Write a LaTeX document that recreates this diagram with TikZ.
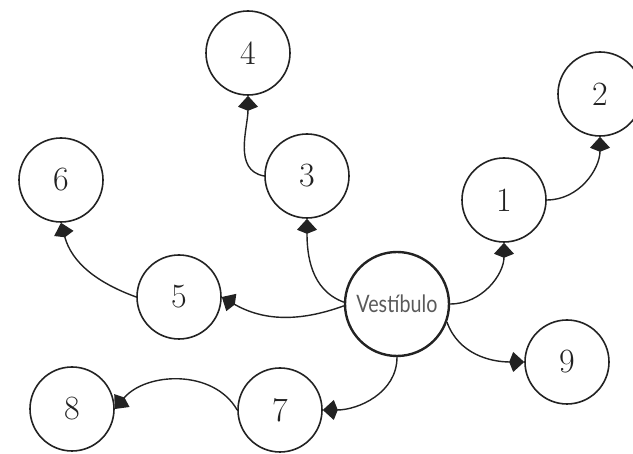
\documentclass[tikz,border=0pt]{standalone}
\usepackage{fontspec}
\newfontfamily\vestfont{Lato}
\usetikzlibrary{arrows.meta}
\definecolor{ink}{HTML}{222222}
\definecolor{vtext}{HTML}{5A5A5A}
\tikzset{
  room/.style={circle, draw=ink, line width=1.6pt, minimum size=84pt, inner sep=0pt,
    font=\fontsize{34}{38}\selectfont, text=ink},
  hall/.style={circle, draw=ink, line width=2.4pt, minimum size=104pt, inner sep=0pt,
    font=\vestfont\fontsize{24}{27}\selectfont, text=vtext},
  link/.style={draw=ink, line width=1.4pt, -{Kite[length=15pt,width=20pt,inset=4pt]}},
}
\begin{document}
\begin{tikzpicture}[x=1pt,y=1pt]
\useasboundingbox (0,0) rectangle (633,454);
\node[hall] (v) at (397,150) {\scalebox{0.82}[1]{Vestíbulo}};
\node[room] (n1) at (504,254) {1};
\node[room] (n2) at (600,360) {2};
\node[room] (n3) at (307,278) {3};
\node[room] (n4) at (248,401) {4};
\node[room] (n5) at (179,157) {5};
\node[room] (n6) at (61,274) {6};
\node[room] (n7) at (280,44) {7};
\node[room] (n8) at (72,45) {8};
\node[room] (n9) at (567,92) {9};
\draw[link] (v.east) to[out=0,in=-90] (n1.south);
\draw[link] (n1.east) to[out=0,in=-90] (n2.south);
\draw[link] (v.178) to[out=160,in=-90] (n3.south);
\draw[link] (n3.west) to[out=170,in=-90] (n4.south);
\draw[link] (v.182) to[out=200,in=-30] (n5.east);
\draw[link] (n5.west) to[out=160,in=-75] (n6.south);
\draw[link] (v.south) to[out=-90,in=0] (n7.east);
\draw[link] (n7.west) to[out=120,in=50] (n8.east);
\draw[link] (v.-20) to[out=-70,in=180] (n9.west);
\end{tikzpicture}
\end{document}
